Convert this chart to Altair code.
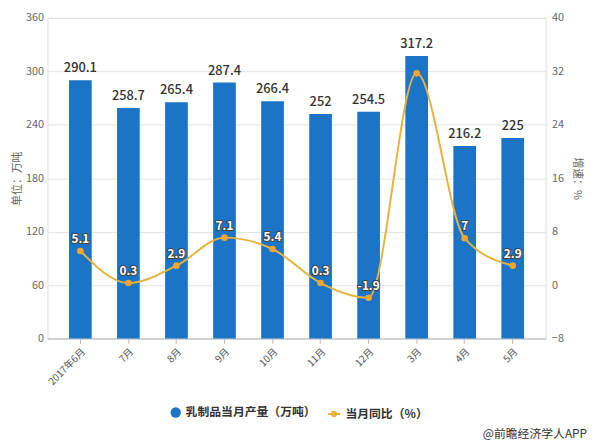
import altair as alt
import pandas as pd

months = ["2017年6月", "7月", "8月", "9月", "10月", "11月", "12月", "3月", "4月", "5月"]
output = [290.1, 258.7, 265.4, 287.4, 266.4, 252, 254.5, 317.2, 216.2, 225]
yoy = [5.1, 0.3, 2.9, 7.1, 5.4, 0.3, -1.9, 31.7, 7, 2.9]
yoy_text = ["5.1", "0.3", "2.9", "7.1", "5.4", "0.3", "-1.9", "", "7", "2.9"]
bar_name = "乳制品当月产量（万吨）"
line_name = "当月同比（%）"
left_ticks = [0, 60, 120, 180, 240, 300, 360]
right_ticks = [-8, 0, 8, 16, 24, 32, 40]
footer = "@前瞻经济学人APP"

FONT = "Noto Sans CJK SC"
BLUE = "#1b74c6"
GOLD = "#e8b33c"
ORANGE = "#f2a630"

df = pd.DataFrame({
    "month": months,
    "output": output,
    "yoy": yoy,
    "yoy_text": yoy_text,
    "s1": bar_name,
    "s2": line_name,
})

x = alt.X(
    "month:N", sort=months,
    scale=alt.Scale(paddingInner=0.53, paddingOuter=0.45),
    axis=alt.Axis(title=None, labelAngle=-45, labelAlign="right", labelBaseline="top",
                  labelFont=FONT, labelFontSize=10, labelColor="#555", labelPadding=3,
                  tickSize=5, tickColor="#bbb", domainColor="#bbb", ticks=True, grid=False),
)

yl = alt.Y(
    "output:Q",
    scale=alt.Scale(domain=[0, 360], nice=False, zero=True),
    axis=alt.Axis(values=left_ticks, title="单位：万吨", titleFont=FONT, titleFontSize=11,
                  titleFontWeight="normal", titleColor="#666", titlePadding=3,
                  labelFont=FONT, labelFontSize=11, labelColor="#666", labelPadding=4,
                  ticks=False, domain=False, grid=True, gridColor="#e3e3e3"),
)

yr = alt.Y(
    "yoy:Q",
    scale=alt.Scale(domain=[-8, 40], nice=False, zero=False),
    axis=alt.Axis(orient="right", values=right_ticks, title="增速：%", titleAngle=90,
                  titleFont=FONT, titleFontSize=11, titleFontWeight="normal",
                  titleColor="#666", titlePadding=8,
                  labelFont=FONT, labelFontSize=11, labelColor="#666", labelPadding=6,
                  ticks=False, domain=False, grid=False),
)

base = alt.Chart(df)

bars = base.mark_bar(size=23).encode(
    x=x, y=yl,
    color=alt.Color("s1:N", scale=alt.Scale(domain=[bar_name], range=[BLUE]),
                    legend=alt.Legend(title=None, orient="none", legendX=124, legendY=394,
                                      symbolType="circle", symbolSize=110,
                                      labelFont=FONT, labelFontSize=12, labelFontWeight="bold",
                                      labelColor="#333")),
)

bar_labels = base.mark_text(baseline="bottom", dy=-5, font=FONT, fontSize=13,
                            fontWeight=500, color="#333").encode(
    x=x, y=yl, text=alt.Text("output:Q", format="~g"),
)

left = alt.layer(bars, bar_labels)

line = base.mark_line(interpolate="monotone", strokeWidth=2).encode(
    x=x, y=yr,
    stroke=alt.Stroke("s2:N", scale=alt.Scale(domain=[line_name], range=[GOLD]),
                      legend=alt.Legend(title=None, orient="none", legendX=283, legendY=394,
                                        symbolType="M-1,0L1,0M-0.35,0A0.35,0.35,0,1,1,0.35,0A0.35,0.35,0,1,1,-0.35,0Z",
                                        symbolSize=150, symbolFillColor=ORANGE,
                                        symbolStrokeWidth=2,
                                        labelFont=FONT, labelFontSize=12, labelFontWeight="bold",
                                        labelColor="#333")),
)

points = base.mark_circle(size=45, color=ORANGE, opacity=1).encode(x=x, y=yr)

lbl_outline = base.mark_text(baseline="bottom", dy=-5, font=FONT, fontSize=12,
                             fontWeight="bold", stroke="#444", strokeWidth=2,
                             fill="#444").encode(x=x, y=yr, text="yoy_text:N")
lbl_fill = base.mark_text(baseline="bottom", dy=-5, font=FONT, fontSize=12,
                          fontWeight="bold", fill="white").encode(x=x, y=yr, text="yoy_text:N")

right = alt.layer(line, points, lbl_outline, lbl_fill)

foot = alt.Chart(pd.DataFrame({"t": [footer]})).mark_text(
    align="right", baseline="middle", font=FONT, fontSize=12, color="#333"
).encode(x=alt.value(547), y=alt.value(422), text="t:N")

chart = alt.layer(left, right, foot).resolve_scale(
    y="independent", color="independent", stroke="independent"
).properties(
    width=505, height=325,
    autosize=alt.AutoSizeParams(type="none"),
    padding={"left": 40, "top": 7, "right": 47, "bottom": 108},
).configure_view(stroke=None).configure(background="white")

chart.save("out.html", embed_options={"renderer": "svg", "actions": False})
